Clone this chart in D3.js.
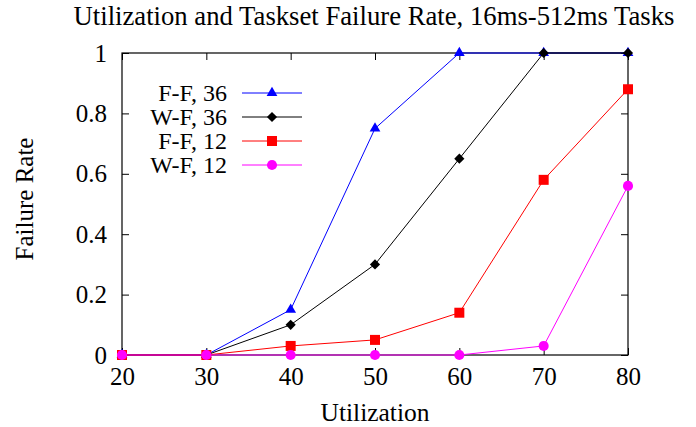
<!DOCTYPE html>
<meta charset="utf-8">
<style>
    body { margin: 0; background: #fff; }
    text { font-family: "Liberation Serif", "DejaVu Serif", serif; fill: #000; }
</style>
<svg width="696" height="427"></svg>
<script src="https://d3js.org/d3.v7.min.js"></script>
<script>

    var utilization = [20, 30, 40, 50, 60, 70, 80];
    var ff36 = [0, 0, 0.15, 0.75, 1, 1, 1];
    var wf36 = [0, 0, 0.1, 0.3, 0.65, 1, 1];
    var ff12 = [0, 0, 0.03, 0.05, 0.14, 0.58, 0.88];
    var wf12 = [0, 0, 0, 0, 0, 0.03, 0.56];
    var xTicks = [20, 30, 40, 50, 60, 70, 80];
    var yTicks = [0, 0.2, 0.4, 0.6, 0.8, 1];

    // diamond = square turned 45 degrees (gnuplot style)
    var diamond = {
        draw: function (ctx, size) {
            var r = Math.sqrt(size) / 2 * Math.SQRT2;
            ctx.moveTo(0, -r); ctx.lineTo(r, 0); ctx.lineTo(0, r); ctx.lineTo(-r, 0); ctx.closePath();
        }
    };

    var series = [
        { name: "F-F, 36", values: ff36, color: "#0000ff", shape: d3.symbolTriangle, size: 50 },
        { name: "W-F, 36", values: wf36, color: "#000000", shape: diamond, size: 52 },
        { name: "F-F, 12", values: ff12, color: "#ff0000", shape: d3.symbolSquare, size: 100 },
        { name: "W-F, 12", values: wf12, color: "#ff00ff", shape: d3.symbolCircle, size: 80 }
    ];

    var svg = d3.select("svg");
    var plotLeft = 122, plotRight = 628, plotTop = 53, plotBottom = 355;

    var x = d3.scaleLinear().domain([20, 80]).range([plotLeft, plotRight]);
    var y = d3.scaleLinear().domain([0, 1]).range([plotBottom, plotTop]);

    // axes with inward ticks on all four sides
    svg.append("g")
        .attr("transform", "translate(0," + plotBottom + ")")
        .call(d3.axisBottom(x).tickValues(xTicks).tickSize(-7).tickPadding(12).tickFormat(d3.format("d")))
        .call(function (g) { g.select(".domain").remove(); });
    svg.append("g")
        .attr("transform", "translate(0," + plotTop + ")")
        .call(d3.axisTop(x).tickValues(xTicks).tickSize(-7).tickFormat(""))
        .call(function (g) { g.select(".domain").remove(); });
    svg.append("g")
        .attr("transform", "translate(" + plotLeft + ",0)")
        .call(d3.axisLeft(y).tickValues(yTicks).tickSize(-7).tickPadding(15).tickFormat(function (d) { return String(+d.toFixed(1)); }))
        .call(function (g) { g.select(".domain").remove(); });
    svg.append("g")
        .attr("transform", "translate(" + plotRight + ",0)")
        .call(d3.axisRight(y).tickValues(yTicks).tickSize(-7).tickFormat(""))
        .call(function (g) { g.select(".domain").remove(); });

    svg.selectAll(".tick line").attr("stroke", "#000").attr("stroke-width", 1);
    svg.selectAll(".tick text").attr("font-size", 25).attr("font-family", "Liberation Serif");

    svg.append("rect")
        .attr("x", plotLeft).attr("y", plotTop)
        .attr("width", plotRight - plotLeft).attr("height", plotBottom - plotTop)
        .attr("fill", "none").attr("stroke", "#000").attr("stroke-width", 1.2);

    var line = d3.line()
        .x(function (d, i) { return x(utilization[i]); })
        .y(function (d) { return y(d); });

    series.forEach(function (s) {
        svg.append("path")
            .datum(s.values)
            .attr("d", line)
            .attr("fill", "none")
            .attr("stroke", s.color)
            .attr("stroke-width", 1);
        svg.append("g").selectAll("path")
            .data(s.values)
            .enter().append("path")
            .attr("d", d3.symbol().type(s.shape).size(s.size))
            .attr("transform", function (d, i) { return "translate(" + x(utilization[i]) + "," + y(d) + ")"; })
            .attr("fill", s.color);
    });

    // legend
    var legend = svg.append("g");
    series.forEach(function (s, i) {
        var ly = 93 + i * 24;
        legend.append("text")
            .attr("x", 227).attr("y", ly + 8)
            .attr("text-anchor", "end")
            .attr("font-size", 24)
            .text(s.name);
        legend.append("line")
            .attr("x1", 242).attr("x2", 302)
            .attr("y1", ly).attr("y2", ly)
            .attr("stroke", s.color).attr("stroke-width", 1);
        legend.append("path")
            .attr("d", d3.symbol().type(s.shape).size(s.size))
            .attr("transform", "translate(272," + ly + ")")
            .attr("fill", s.color);
    });

    svg.append("text")
        .attr("x", 374).attr("y", 25)
        .attr("text-anchor", "middle")
        .attr("font-size", 26.7)
        .text("Utilization and Taskset Failure Rate, 16ms-512ms Tasks");

    svg.append("text")
        .attr("x", 375).attr("y", 421)
        .attr("text-anchor", "middle")
        .attr("font-size", 25.5)
        .text("Utilization");

    svg.append("text")
        .attr("transform", "translate(33,199) rotate(-90)")
        .attr("text-anchor", "middle")
        .attr("font-size", 25)
        .text("Failure Rate");

</script>
